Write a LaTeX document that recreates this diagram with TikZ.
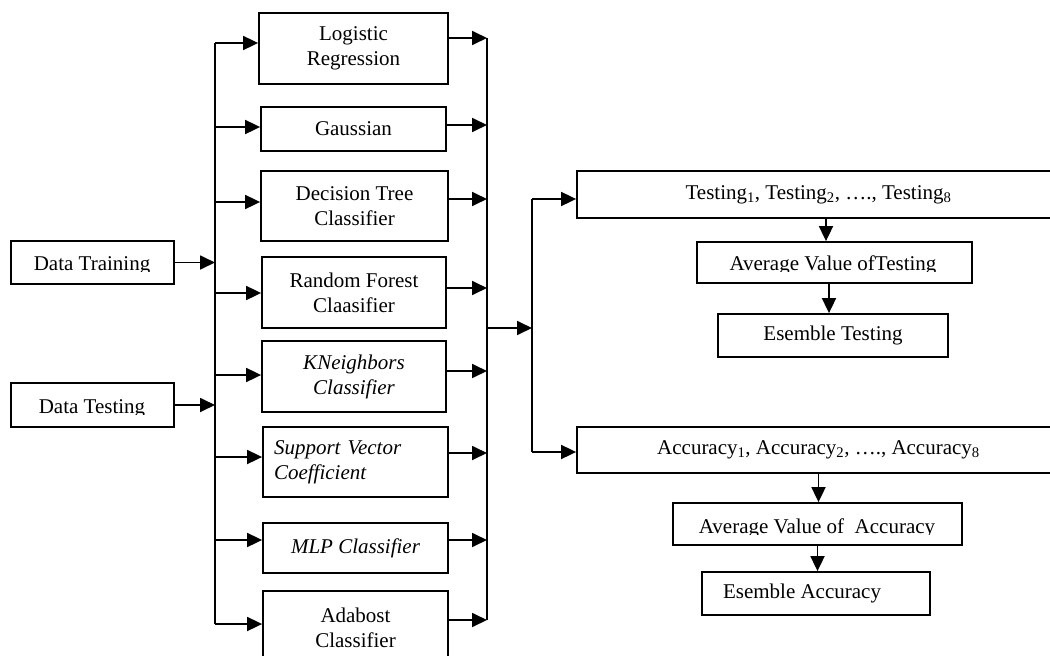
\documentclass[tikz,border=0pt]{standalone}
\usepackage{fontspec}
\setmainfont{Liberation Serif}
\usetikzlibrary{arrows.meta}
\newcommand\bodyfs{\fontsize{21}{25}\selectfont}
\begin{document}
\begin{tikzpicture}[x=1pt,y=-1pt,
  box/.style={draw, line width=1.8pt, rectangle, inner sep=0pt, align=center, font=\bodyfs},
  lbl/.style={inner sep=0pt, font=\bodyfs},
  arr/.style={line width=1.8pt, -{Triangle[length=15pt,width=14pt]}},
  ln/.style={line width=1.8pt},
  it/.style={font=\bodyfs\itshape}]
\useasboundingbox (0,0) rectangle (1050,656);
\clip (0,0) rectangle (1050,656);

% input boxes (text clipped at baseline as in the reference)
\node[box, minimum width=163pt, minimum height=43pt] (dtr) at (92.5,262.5) {};
\node[box, minimum width=163pt, minimum height=44pt] (dts) at (92.5,405) {};
\begin{scope}
  \clip (11,241) rectangle (174,271);
  \node[lbl, anchor=base] (dtrt) at (92,270) {Data Training};
\end{scope}
\begin{scope}
  \clip (11,383) rectangle (174,414);
  \node[lbl, anchor=base] (dtst) at (92,413) {Data Testing};
\end{scope}

% classifiers
\node[box, minimum width=189pt, minimum height=71pt] (lr) at (353.5,48.5) {Logistic\\Regression};
\node[box, minimum width=185pt, minimum height=44pt] (ga) at (353.5,129) {Gaussian};
\node[box, minimum width=187pt, minimum height=70pt] (dt) at (354.5,206) {Decision Tree\\Classifier};
\node[box, minimum width=184pt, minimum height=71pt] (rf) at (354,292.5) {Random Forest\\Claasifier};
\node[box, it, minimum width=184pt, minimum height=71pt] (kn) at (354,376.5) {KNeighbors\\Classifier};
\node[box, it, minimum width=185pt, minimum height=70pt, text width=163pt, align=left] (sv) at (355.5,462) {Support Vector\\Coefficient};
\node[box, it, minimum width=185pt, minimum height=50pt] (ml) at (355.5,548) {MLP Classifier};
\node[box, minimum width=185pt, minimum height=74pt] (ad) at (355.5,628) {Adabost\\Classifier};

% left trunk
\coordinate (l1) at (215,43);
\coordinate (l2) at (215,127);
\coordinate (l3) at (215,202);
\coordinate (l4) at (215,293);
\coordinate (l5) at (215,375);
\coordinate (l6) at (215,457);
\coordinate (l7) at (215,540);
\coordinate (l8) at (215,624);
\draw[ln] (l1) -- (l8);
\draw[arr] (dtr.east) -- (dtr.east -| l1);
\draw[arr] (dts.east) -- (dts.east -| l1);
\draw[arr] (l1) -- (l1 -| lr.west);
\draw[arr] (l2) -- (l2 -| ga.west);
\draw[arr] (l3) -- (l3 -| dt.west);
\draw[arr] (l4) -- (l4 -| rf.west);
\draw[arr] (l5) -- (l5 -| kn.west);
\draw[arr] (l6) -- (l6 -| sv.west);
\draw[arr] (l7) -- (l7 -| ml.west);
\draw[arr] (l8) -- (l8 -| ad.west);

% right collector
\coordinate (r1) at (487,38);
\coordinate (r2) at (487,125);
\coordinate (r3) at (487,199);
\coordinate (r4) at (487,288);
\coordinate (r5) at (487,371);
\coordinate (r6) at (487,453);
\coordinate (r7) at (487,540);
\coordinate (r8) at (487,620);
\draw[ln] (r1) -- (r8);
\draw[arr] (r1 -| lr.east) -- (r1);
\draw[arr] (r2 -| ga.east) -- (r2);
\draw[arr] (r3 -| dt.east) -- (r3);
\draw[arr] (r4 -| rf.east) -- (r4);
\draw[arr] (r5 -| kn.east) -- (r5);
\draw[arr] (r6 -| sv.east) -- (r6);
\draw[arr] (r7 -| ml.east) -- (r7);
\draw[arr] (r8 -| ad.east) -- (r8);

% results
\node[box, minimum width=483pt, minimum height=47pt] (te) at (818.5,194.5)
  {Testing\textsubscript{1}, Testing\textsubscript{2}, …., Testing\textsubscript{8}};
\node[box, minimum width=275pt, minimum height=41pt] (at) at (834.5,262.5) {};
\node[box, minimum width=230pt, minimum height=43pt] (et) at (833,335.5) {Esemble Testing};
\node[box, minimum width=483pt, minimum height=46pt] (ac) at (818.5,450)
  {Accuracy\textsubscript{1}, Accuracy\textsubscript{2}, …., Accuracy\textsubscript{8}};
\node[box, minimum width=289pt, minimum height=42pt] (aa) at (817.5,524) {};
\node[box, minimum width=228pt, minimum height=43pt] (ea) at (816,593.5) {Esemble Accuracy\hspace*{28pt}};
\begin{scope}
  \clip (697,242) rectangle (972,271);
  \node[lbl, anchor=base] (att) at (833,270) {Average Value ofTesting};
\end{scope}
\begin{scope}
  \clip (673,503) rectangle (962,534);
  \node[lbl, anchor=base] (aat) at (817,533) {Average Value of\ \ Accuracy};
\end{scope}

% middle connectors
\coordinate (m) at (487,328);
\coordinate (mt) at (532,199);
\coordinate (mb) at (532,452);
\draw[arr] (m) -- (m -| mt);
\draw[ln] (mt) -- (mb);
\draw[arr] (mt) -- (mt -| te.west);
\draw[arr] (mb) -- (mb -| ac.west);

% down arrows
\draw[arr] ([xshift=7.5pt]te.south) -- ([xshift=7.5pt]te.south |- at.north);
\draw[arr] ([xshift=-5.5pt]at.south) -- ([xshift=-5.5pt]at.south |- et.north);
\draw[arr] (ac.south) -- (ac.south |- aa.north);
\draw[arr] (aa.south) -- (aa.south |- ea.north);
\end{tikzpicture}
\end{document}
